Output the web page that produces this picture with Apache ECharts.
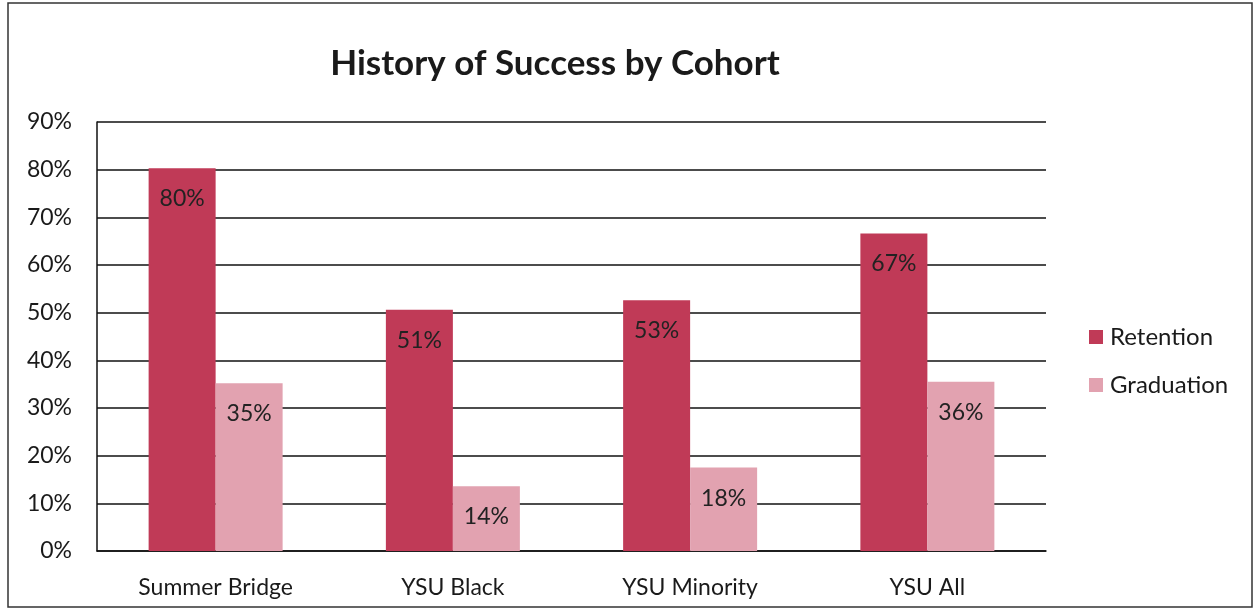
<!DOCTYPE html>
<html>
<head>
<meta charset="utf-8">
<script src="https://cdn.jsdelivr.net/npm/echarts@6/dist/echarts.min.js"></script>
<style>
  html, body { margin: 0; padding: 0; background: #fff; }
  #chart { width: 1258px; height: 614px; }
</style>
</head>
<body>
<div id="chart"></div>
<script>
// cohorts on the x axis
var cohorts = ['Summer Bridge', 'YSU Black', 'YSU Minority', 'YSU All']
// percent values
var retention = [80.3, 50.6, 52.6, 66.6]
var graduation = [35.2, 13.6, 17.5, 35.5]
var seriesNames = ['Retention', 'Graduation']

var chart = echarts.init(document.getElementById('chart'))

var font = 'Lato, "Open Sans", sans-serif'
var barLabel = {
  show: true,
  position: 'insideTop',
  distance: 19,
  color: '#222',
  fontSize: 23,
  fontFamily: font,
  formatter: function(p) {
    return Math.round(p.value) + '%'
  }
}

chart.setOption({
  backgroundColor: '#fff',
  animation: false,
  title: {
    text: 'History of Success by Cohort',
    left: 550,
    textAlign: 'center',
    top: 41,
    textStyle: {
      fontSize: 35,
      fontWeight: 'bold',
      color: '#1a1a1a',
      fontFamily: font
    }
  },
  graphic: [{
    type: 'rect',
    shape: { x: 8, y: 3, width: 1244, height: 604 },
    style: { fill: 'none', stroke: '#333', lineWidth: 1.5 },
    silent: true
  }],
  legend: {
    orient: 'vertical',
    left: 1084,
    top: 320,
    itemWidth: 14,
    itemHeight: 14,
    itemGap: 24,
    icon: 'rect',
    data: seriesNames,
    textStyle: {
      fontSize: 24,
      color: '#1a1a1a',
      fontFamily: font,
      padding: [0, 0, 0, 2]
    }
  },
  grid: {
    left: 97,
    right: 212,
    top: 122,
    bottom: 63,
    containLabel: false
  },
  xAxis: {
    type: 'category',
    data: cohorts,
    axisLine: { lineStyle: { color: '#111', width: 1.5 } },
    axisTick: { show: false },
    axisLabel: {
      margin: 25,
      fontSize: 23,
      color: '#1a1a1a',
      fontFamily: font
    }
  },
  yAxis: {
    type: 'value',
    min: 0,
    max: 90,
    interval: 10,
    axisLine: { show: true, lineStyle: { color: '#111', width: 1.5 } },
    axisTick: { show: false },
    splitLine: { lineStyle: { color: '#111', width: 1.5 } },
    axisLabel: {
      margin: 25,
      fontSize: 23,
      color: '#1a1a1a',
      fontFamily: font,
      formatter: '{value}%'
    }
  },
  series: [
    {
      name: seriesNames[0],
      type: 'bar',
      data: retention,
      barWidth: 67,
      barGap: '0%',
      itemStyle: { color: '#c03a57' },
      label: barLabel
    },
    {
      name: seriesNames[1],
      type: 'bar',
      data: graduation,
      barWidth: 67,
      barGap: '0%',
      itemStyle: { color: '#e2a2b0' },
      label: barLabel
    }
  ]
})
</script>
</body>
</html>
